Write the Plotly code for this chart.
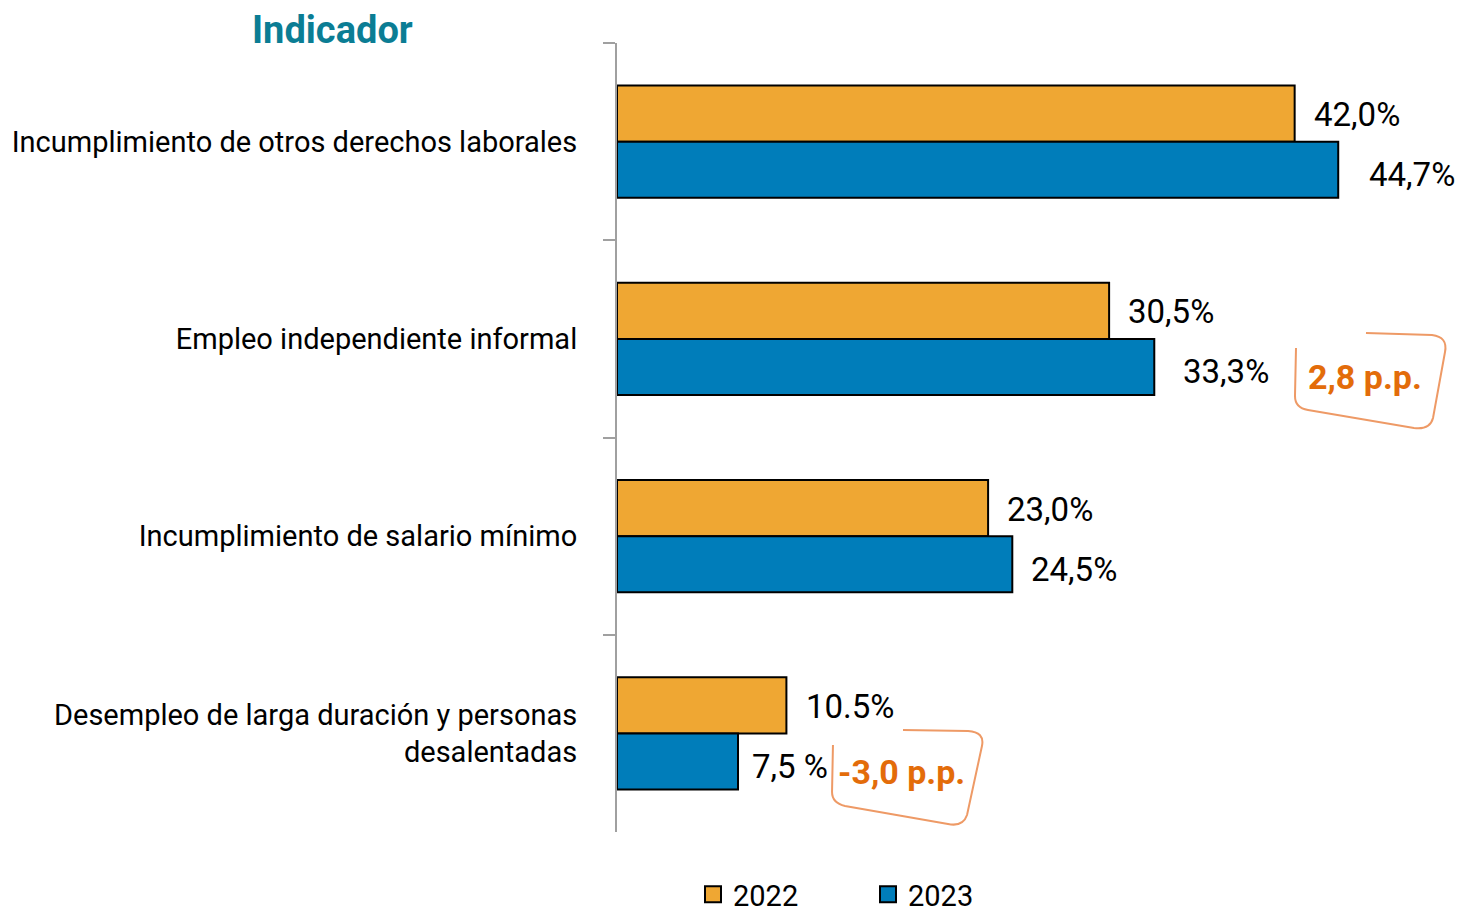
import plotly.graph_objects as go

categories = [
    "Incumplimiento de otros derechos laborales",
    "Empleo independiente informal",
    "Incumplimiento de salario mínimo",
    "Desempleo de larga duración y personas<br>desalentadas",
]
values_2022 = [42.0, 30.5, 23.0, 10.5]
values_2023 = [44.7, 33.3, 24.5, 7.5]
labels_2022 = ["42,0%", "30,5%", "23,0%", "10.5%"]
labels_2023 = ["44,7%", "33,3%", "24,5%", "7,5 %"]
series_names = ["2022", "2023"]

FONT = "Roboto"
C22 = "#EFA733"
C23 = "#007DBA"
ORANGE = "#E36C0A"
BOXC = "#EE9A66"

# layout in pixels (page has an 8px offset)
OFF = 8
W, H = 1465 - OFF, 914 - OFF
L, R, T, B = 617 - OFF, 9, 43 - OFF, 82
PW, PH = W - L - R, H - T - B
XMAX = 52


def px(x):
    return (x - OFF - L) / PW


def py(y):
    return (H - B - (y - OFF)) / PH


def f(size, color="black", weight="normal"):
    return dict(family=FONT, size=size, color=color, weight=weight)


fig = go.Figure()
for name, vals, col in ((series_names[0], values_2022, C22), (series_names[1], values_2023, C23)):
    fig.add_trace(go.Bar(y=categories, x=vals, name=name, orientation="h", showlegend=False,
                         legendgroup=name,
                         marker=dict(color=col, line=dict(color="black", width=2))))
for name, col in ((series_names[0], C22), (series_names[1], C23)):
    fig.add_trace(go.Scatter(x=[None], y=[None], mode="markers", name=name, legendgroup=name,
                             marker=dict(symbol="square", size=20, color=col,
                                         line=dict(color="black", width=2))))

pads22 = [17, 17, 17, 18]
pads23 = [29, 27, 17, 12]
ann = []
for i, c in enumerate(categories):
    ann.append(dict(x=values_2022[i], y=c, xref="x", yref="y", text=labels_2022[i],
                    showarrow=False, xanchor="left", yanchor="middle",
                    xshift=pads22[i], yshift=27, font=f(33)))
    ann.append(dict(x=values_2023[i], y=c, xref="x", yref="y", text=labels_2023[i],
                    showarrow=False, xanchor="left", yanchor="middle",
                    xshift=pads23[i], yshift=-33, font=f(33)))


def fmt(v):
    return ("%.1f" % v).replace(".", ",") + " p.p."


d1 = values_2023[1] - values_2022[1]
d2 = values_2023[3] - values_2022[3]
ann.append(dict(x=px(1365), y=py(377), xref="paper", yref="paper", xanchor="center",
                yanchor="middle", text=fmt(d1), showarrow=False, font=f(34, ORANGE, "bold")))
ann.append(dict(x=px(901), y=py(772), xref="paper", yref="paper", xanchor="center",
                yanchor="middle", text=fmt(d2), showarrow=False, font=f(34, ORANGE, "bold")))
ann.append(dict(x=px(332), y=py(30), xref="paper", yref="paper", xanchor="center",
                yanchor="middle", text="Indicador", showarrow=False,
                font=f(38, "#0B7D94", "bold")))


def path(pts):
    s = ""
    for cmd, coords in pts:
        s += cmd + " " + " ".join("%.4f,%.4f" % (px(a), py(b)) for a, b in coords) + " "
    return s.strip()


box1 = path([
    ("M", [(1366, 333)]), ("L", [(1432, 335)]), ("Q", [(1448, 337), (1445, 352)]),
    ("L", [(1433, 418)]), ("Q", [(1430, 430), (1414, 428)]),
    ("L", [(1308, 410)]), ("Q", [(1295, 408), (1295, 396)]), ("L", [(1296, 348)]),
])
box2 = path([
    ("M", [(903, 730)]), ("L", [(968, 731)]), ("Q", [(985, 732), (982, 746)]),
    ("L", [(967, 815)]), ("Q", [(963, 827), (948, 824)]),
    ("L", [(845, 806)]), ("Q", [(832, 803), (832, 792)]), ("L", [(833, 745)]),
])
shapes = [dict(type="path", path=p, xref="paper", yref="paper",
               line=dict(color=BOXC, width=2)) for p in (box1, box2)]

fig.update_layout(
    width=W, height=H,
    margin=dict(l=L, r=R, t=T, b=B, autoexpand=False),
    paper_bgcolor="white", plot_bgcolor="white",
    barmode="group", bargap=0.43, bargroupgap=0,
    font=f(29),
    xaxis=dict(range=[0, XMAX], visible=False, fixedrange=True),
    yaxis=dict(type="category", autorange="reversed", showline=True, linecolor="#A0A0A0",
               linewidth=2, ticks="outside", tickson="boundaries", ticklen=12,
               tickcolor="#A0A0A0", tickwidth=2, showgrid=False, automargin=False,
               tickfont=f(29), ticklabelstandoff=32),
    legend=dict(orientation="h", x=px(693), xanchor="left", y=py(869), yanchor="top",
                font=f(29), entrywidth=130, traceorder="normal", itemsizing="trace"),
    showlegend=True,
    annotations=ann, shapes=shapes,
)

fig.write_html("out.html")
